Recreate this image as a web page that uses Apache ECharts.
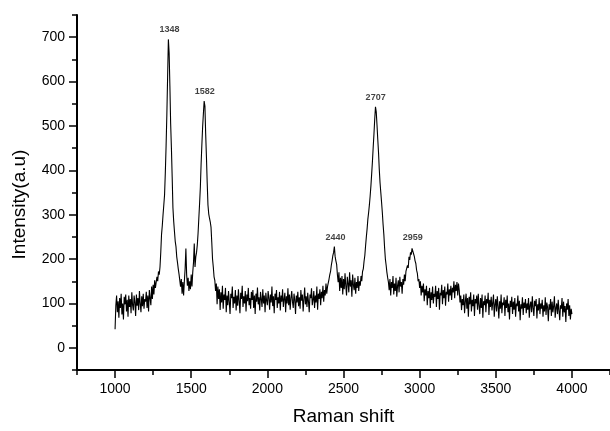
<!DOCTYPE html>
<html><head><meta charset="utf-8">
<script src="https://cdn.jsdelivr.net/npm/echarts@6/dist/echarts.min.js"></script>
<style>html,body{margin:0;padding:0;background:#fff}#c{width:610px;height:431px}</style>
</head><body><div id="c"></div>
<script>
const shiftStart = 1000;
const shiftStep = 5;
const intensity = [
  42, 95, 118, 80, 105, 68, 112, 90, 122, 75, 100, 64, 115, 98, 120, 82, 108, 70, 118, 92,
  110, 78, 125, 96, 84, 118, 102, 72, 120, 95, 112, 85, 128, 100, 80, 116, 94, 122, 88, 110,
  104, 126, 90, 118, 82, 130, 112, 96, 138, 110, 142, 120, 152, 135, 148, 160, 150, 172, 165, 182,
  215, 255, 275, 300, 322, 345, 395, 455, 525, 610, 695, 665, 590, 505, 450, 385, 315, 285, 262, 240,
  228, 205, 192, 178, 166, 152, 138, 155, 122, 148, 118, 150, 178, 224, 165, 140, 158, 128, 150, 132,
  165, 138, 170, 192, 235, 182, 205, 215, 232, 258, 292, 325, 362, 415, 458, 498, 528, 556, 545, 482,
  430, 372, 322, 302, 292, 284, 272, 238, 200, 182, 160, 152, 128, 145, 98, 138, 110, 132, 85, 125,
  102, 140, 88, 120, 108, 135, 80, 118, 96, 128, 104, 76, 122, 112, 138, 90, 115, 100, 130, 84,
  118, 95, 132, 106, 78, 124, 110, 140, 92, 116, 100, 128, 82, 120, 105, 135, 96, 112, 88, 126,
  108, 130, 90, 118, 76, 122, 104, 136, 98, 114, 84, 126, 110, 92, 132, 100, 118, 80, 124, 106,
  96, 128, 112, 86, 120, 102, 138, 94, 116, 78, 122, 108, 130, 90, 114, 100, 126, 84, 118, 104,
  132, 92, 110, 124, 80, 116, 100, 134, 96, 120, 86, 112, 128, 104, 90, 122, 108, 76, 118, 102,
  126, 94, 114, 88, 130, 106, 120, 82, 110, 136, 98, 116, 92, 124, 104, 80, 120, 112, 134, 96,
  108, 128, 90, 118, 102, 138, 86, 122, 110, 132, 96, 126, 112, 140, 104, 130, 118, 145, 122, 138,
  142, 155, 165, 172, 186, 196, 208, 215, 228, 206, 196, 188, 165, 148, 170, 128, 158, 135, 162, 120,
  155, 132, 168, 140, 118, 160, 145, 125, 170, 138, 152, 115, 165, 142, 130, 158, 122, 148, 135, 162,
  128, 150, 140, 162, 150, 172, 178, 195, 208, 230, 250, 268, 290, 305, 322, 342, 365, 392, 420, 452,
  482, 515, 543, 532, 502, 470, 440, 402, 372, 350, 328, 305, 278, 255, 225, 200, 186, 170, 158, 148,
  130, 155, 118, 148, 135, 162, 120, 145, 128, 158, 115, 140, 152, 125, 160, 138, 148, 122, 155, 142,
  165, 150, 172, 168, 186, 180, 205, 198, 215, 210, 224, 228, 212, 206, 196, 190, 175, 168, 150, 155,
  135, 150, 118, 140, 125, 145, 105, 132, 118, 140, 96, 128, 112, 135, 90, 125, 108, 138, 100, 122,
  115, 140, 92, 128, 110, 135, 86, 124, 118, 142, 98, 130, 112, 138, 95, 126, 120, 145, 104, 132,
  118, 140, 108, 135, 125, 150, 112, 142, 128, 148, 118, 145, 130, 102, 118, 85, 110, 96, 120, 78,
  104, 122, 88, 112, 70, 115, 98, 125, 82, 108, 94, 120, 72, 110, 100, 118, 86, 122, 95, 76,
  112, 90, 120, 68, 105, 96, 118, 80, 110, 100, 124, 74, 108, 92, 115, 84, 102, 120, 70, 98,
  110, 82, 116, 94, 66, 105, 88, 120, 78, 102, 96, 114, 72, 108, 90, 118, 80, 100, 64, 106,
  92, 115, 76, 104, 86, 112, 70, 100, 94, 118, 82, 106, 62, 98, 88, 114, 74, 102, 90, 110,
  78, 100, 86, 112, 68, 96, 104, 80, 116, 90, 72, 106, 94, 110, 66, 98, 84, 112, 76, 100,
  88, 108, 70, 96, 82, 114, 74, 102, 92, 60, 98, 86, 110, 72, 104, 80, 94, 116, 68, 90,
  100, 76, 108, 84, 62, 96, 88, 112, 70, 104, 80, 94, 58, 100, 86, 110, 72, 96, 64, 88,
  76
];

const xTickLabels = [1000, 1500, 2000, 2500, 3000, 3500, 4000];
const xMinorTicks = [750, 1250, 1750, 2250, 2750, 3250, 3750, 4250];
const yTickLabels = [0, 100, 200, 300, 400, 500, 600, 700];
const yMinorTicks = [-50, 50, 150, 250, 350, 450, 550, 650, 750];

const peakLabels = ['1348', '1582', '2440', '2707', '2959'];
const peakShift = [1357, 1589, 2447, 2711, 2954];
const peakIntensity = [695, 556, 228, 543, 228];

const spectrum = intensity.map((v, i) => [shiftStart + i * shiftStep, v]);
const peaks = peakShift.map((x, i) => [x, peakIntensity[i], peakLabels[i]]);

const font = "'Liberation Sans', Arial, sans-serif";
const chart = echarts.init(document.getElementById('c'), null, {renderer: 'canvas'});

const axisLineStyle = {color: '#000', width: 2};
const plain = v => String(v);
chart.setOption({
  animation: false,
  backgroundColor: '#fff',
  grid: {left: 77, top: 15, right: -1, bottom: 54, containLabel: false},
  xAxis: [
    {
      type: 'value', min: 750, max: 4250, position: 'bottom',
      name: 'Raman shift', nameLocation: 'middle', nameGap: 37,
      nameTextStyle: {fontFamily: font, fontSize: 19, color: '#000'},
      axisLine: {show: true, onZero: false, lineStyle: axisLineStyle},
      axisTick: {show: true, inside: false, length: 8, customValues: xTickLabels, lineStyle: {color: '#000', width: 1.5}},
      axisLabel: {show: true, customValues: xTickLabels, formatter: plain, margin: 12, fontFamily: font, fontSize: 14, color: '#000'},
      splitLine: {show: false}
    },
    {
      type: 'value', min: 750, max: 4250, position: 'bottom', offset: 0,
      axisLine: {show: false, onZero: false},
      axisTick: {show: true, inside: false, length: 5, customValues: xMinorTicks, lineStyle: {color: '#000', width: 1.5}},
      axisLabel: {show: false},
      splitLine: {show: false}
    }
  ],
  yAxis: [
    {
      type: 'value', min: -50, max: 750, position: 'left',
      name: 'Intensity(a.u)', nameLocation: 'middle', nameGap: 48, nameRotate: 90,
      nameTextStyle: {fontFamily: font, fontSize: 19, color: '#000', padding: [0, 24, 0, 0]},
      axisLine: {show: true, onZero: false, lineStyle: axisLineStyle},
      axisTick: {show: true, inside: false, length: 8, customValues: yTickLabels, lineStyle: {color: '#000', width: 1.5}},
      axisLabel: {show: true, customValues: yTickLabels, formatter: plain, margin: 12, fontFamily: font, fontSize: 14, color: '#000'},
      splitLine: {show: false}
    },
    {
      type: 'value', min: -50, max: 750, position: 'left', offset: 0,
      axisLine: {show: false, onZero: false},
      axisTick: {show: true, inside: false, length: 5, customValues: yMinorTicks, lineStyle: {color: '#000', width: 1.5}},
      axisLabel: {show: false},
      splitLine: {show: false}
    }
  ],
  series: [
    {
      type: 'line', xAxisIndex: 0, yAxisIndex: 0, data: spectrum,
      showSymbol: false, symbol: 'none',
      lineStyle: {color: '#000', width: 1.1},
      silent: true
    },
    {
      type: 'scatter', xAxisIndex: 0, yAxisIndex: 0, data: peaks,
      symbolSize: 0, silent: true,
      label: {
        show: true, position: 'top', distance: 5,
        formatter: p => p.data[2],
        fontFamily: font, fontSize: 9, fontWeight: 'bold', color: '#111'
      }
    }
  ]
});
</script>
</body></html>
